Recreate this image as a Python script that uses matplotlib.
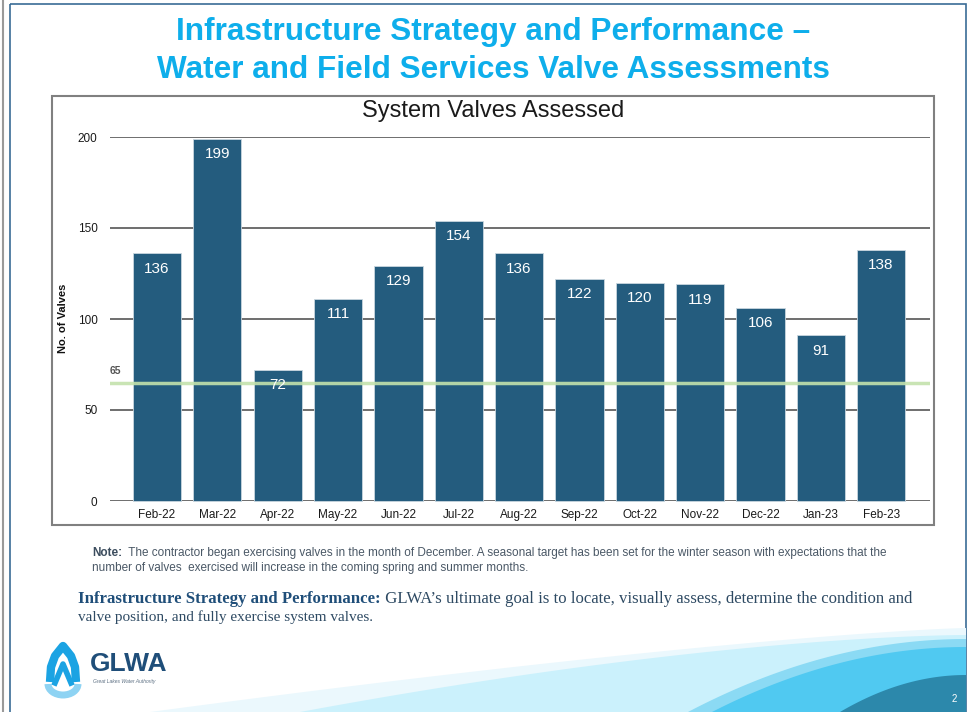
import numpy as np
import matplotlib
matplotlib.use("Agg")
import matplotlib.pyplot as plt
from matplotlib.patches import Rectangle, Arc
from matplotlib import font_manager

months = ["Feb-22", "Mar-22", "Apr-22", "May-22", "Jun-22", "Jul-22", "Aug-22",
          "Sep-22", "Oct-22", "Nov-22", "Dec-22", "Jan-23", "Feb-23"]
valves = [136, 199, 72, 111, 129, 154, 136, 122, 120, 119, 106, 91, 138]
target = 65
yticks = [0, 50, 100, 150, 200]

title_lines = ["Infrastructure Strategy and Performance \u2013",
               "Water and Field Services Valve Assessments"]
chart_title = "System Valves Assessed"
note_lines = [
    [("Note:", "bold"), ("  The contractor began exercising valves in the month of December. "
                         "A seasonal target has been set for the winter season with expectations that the", "normal")],
    [("number of valves  exercised will increase in the coming spring and summer months.", "normal")],
]
body_lines = [
    [("Infrastructure Strategy and Performance:", "bold"),
     (" GLWA\u2019s ultimate goal is to locate, visually assess, determine the condition and", "normal")],
    [("valve position, and fully exercise system valves.", "normal")],
]

BAR = "#245C7E"
CYAN = "#0EAEEB"
NAVY = "#1F4E79"


def have(name):
    try:
        font_manager.findfont(name, fallback_to_default=False)
        return True
    except Exception:
        return False


SANS = "Liberation Sans"
NARROW = "Liberation Sans Narrow" if have("Liberation Sans Narrow") else SANS
SERIF = "Liberation Serif"

W, H = 974, 712
fig = plt.figure(figsize=(W / 100, H / 100), dpi=100)
bg = fig.add_axes([0, 0, 1, 1])
bg.set_xlim(0, W)
bg.set_ylim(H, 0)
bg.axis("off")
renderer = fig.canvas.get_renderer()


def put_runs(x, y, runs, size, family, colors, width=None):
    # draw text pieces one after another; optionally scale to a target width
    def draw(sz):
        objs, cx = [], x
        for (txt, wt), col in zip(runs, colors):
            t = bg.text(cx, y, txt, fontsize=sz, fontweight=wt, family=family,
                        color=col, va="center", ha="left")
            cx = t.get_window_extent(renderer).x1
            objs.append(t)
        return objs, cx - x
    objs, w = draw(size)
    if width is not None:
        for t in objs:
            t.remove()
        objs, w = draw(size * width / w)
    return objs


def centered(xc, y, text, size, family, color, weight, width):
    t = bg.text(xc, y, text, fontsize=size, family=family, color=color,
                fontweight=weight, ha="center", va="center")
    w = t.get_window_extent(renderer).width
    t.set_fontsize(size * width / w)
    return t


# slide frame
bg.plot([3, 3], [0, H], color="#9A9A9A", lw=1.5)
bg.add_patch(Rectangle((10, 4), 956, 720, fill=False, ec="#3A6C96", lw=1.2))

# waves at the bottom right
t = np.linspace(0, 1, 200)
layers = [
    (150, 712, 966, 628, "#EBF8FD", 1.3),
    (300, 712, 966, 635, "#CBF1FC", 1.6),
    (688, 712, 966, 639, "#8BDAF4", 2.0),
    (712, 712, 966, 647, "#50C9F1", 2.0),
    (840, 712, 966, 675, "#2C88AB", 2.0),
]
for x0, y0, x1, y1, col, p in layers:
    xs = x0 + (x1 - x0) * t
    ys = y0 - (y0 - y1) * (1 - (1 - t) ** p)
    bg.fill(np.r_[xs, x1, x0], np.r_[ys, H, H], color=col, lw=0, zorder=1)
bg.text(954, 699, "2", color="white", fontsize=7, family=SANS, ha="center", va="center", zorder=2)

# titles
centered(493, 32, title_lines[0], 22, NARROW, CYAN, "bold", 634)
centered(493, 70, title_lines[1], 22, NARROW, CYAN, "bold", 672)

# chart box and title
bg.add_patch(Rectangle((52, 96), 882, 429, fill=False, ec="#808080", lw=1.5))
centered(493, 111, chart_title, 13, SANS, "#1A1A1A", "normal", 262)
bg.text(63, 318, "No. of Valves", rotation=90, fontsize=8, fontweight="bold",
        family=SANS, ha="center", va="center", color="#111111")
bg.text(110, 371, str(target), fontsize=7.5, fontweight="bold", family=SANS,
        color="#555555", ha="left", va="center")

# note and body text
put_runs(92, 553, note_lines[0], 7.5, NARROW, ["#3C4D5E", "#4A5866"], width=798)
put_runs(92, 568, note_lines[1], 7.5, NARROW, ["#4A5866"], width=438)
put_runs(78, 599, body_lines[0], 10.5, SERIF, [NAVY, "#2E4A63"], width=834)
put_runs(78, 617, body_lines[1], 10.5, SERIF, ["#2E4A63"], width=294)

# logo
bg.add_patch(Arc((63, 684), 30, 22, theta1=0, theta2=180, color="#8ED3F3", lw=5, zorder=2))
sym_x = [50, 51, 55, 63, 71, 75, 76]
sym_y = [682, 667, 656, 646, 656, 667, 682]
bg.plot(sym_x, sym_y, color="#1BA3E3", lw=6, solid_capstyle="butt", zorder=3)
bg.plot([55, 63, 71], [683, 664, 683], color="#1BA3E3", lw=4, zorder=3)
bg.text(90, 664, "GLWA", fontsize=19, fontweight="bold", family=SANS, color=NAVY,
        ha="left", va="center")
bg.text(93, 681, "Great Lakes Water Authority", fontsize=3.6, style="italic",
        family=SANS, color="#5E7184", ha="left", va="center")

# main chart
x0, x1, ytop, ybot = 110, 930, 137, 501
ax = fig.add_axes([x0 / W, 1 - ybot / H, (x1 - x0) / W, (ybot - ytop) / H])
ax.patch.set_alpha(0)
xpos = np.arange(len(months))
ax.bar(xpos, valves, width=0.8, color=BAR, edgecolor="#C9D6DF", lw=0.6,
       zorder=3, clip_on=False)
for xp, v in zip(xpos, valves):
    ax.annotate(str(v), (xp, v), xytext=(0, -11), textcoords="offset points",
                ha="center", va="center", color="white", fontsize=11,
                family=SANS, zorder=5)
ax.axhline(target, color="#C3E2AC", lw=2.5, alpha=0.9, zorder=4)

ax.set_xlim(-0.779, 12.81)
ax.set_ylim(0, 200)
ax.set_yticks(yticks)
ax.set_xticks(xpos)
ax.set_xticklabels(months)
for y in yticks:
    ax.axhline(y, color="#555555", lw=1.2, zorder=1)
for s in ax.spines.values():
    s.set_visible(False)
ax.tick_params(length=0, labelsize=8.5, colors="#1A1A1A", pad=6)
ax.tick_params(axis="y", pad=9)
for lab in ax.get_xticklabels() + ax.get_yticklabels():
    lab.set_family(SANS)

fig.savefig("out.png", dpi=100)
